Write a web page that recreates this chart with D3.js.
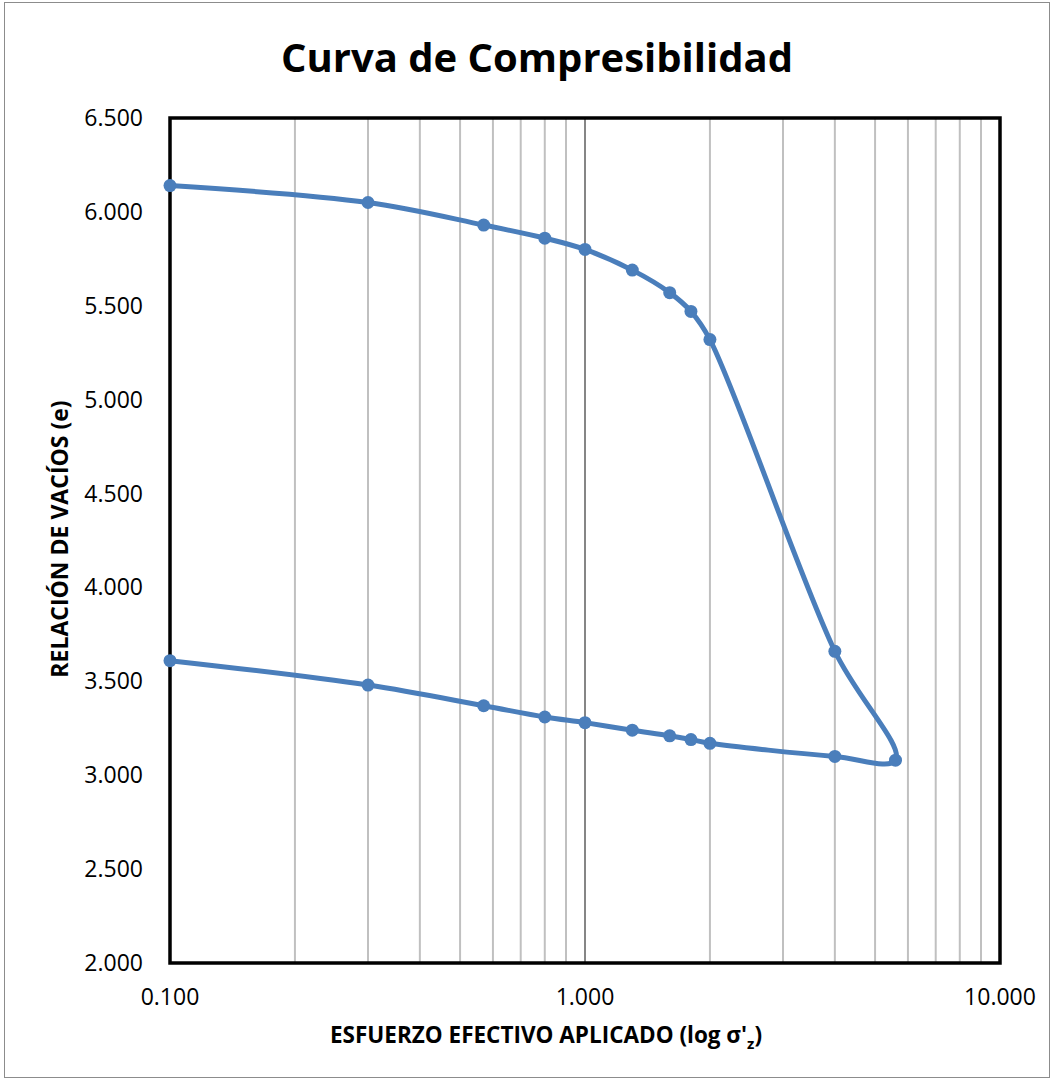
<!DOCTYPE html>
<html>
<head>
<meta charset="utf-8">
<script src="https://cdn.jsdelivr.net/npm/d3@7"></script>
<style>
  body { margin: 0; background: #fff; }
  text { font-family: "Open Sans", Lato, sans-serif; }
</style>
</head>
<body>
<div id="chart"></div>
<script>
// effective stress (loading then unloading) and void ratio
var stress = [0.1, 0.3, 0.57, 0.8, 1.0, 1.3, 1.6, 1.8, 2.0, 4.0, 5.6,
              4.0, 2.0, 1.8, 1.6, 1.3, 1.0, 0.8, 0.57, 0.3, 0.1];
var voidRatio = [6.14, 6.05, 5.93, 5.86, 5.80, 5.69, 5.57, 5.47, 5.32, 3.66, 3.08,
                 3.10, 3.17, 3.19, 3.21, 3.24, 3.28, 3.31, 3.37, 3.48, 3.61];
var yTicks = [2.0, 2.5, 3.0, 3.5, 4.0, 4.5, 5.0, 5.5, 6.0, 6.5];
var xTicks = [0.1, 1, 10];
var xGrid = [0.2, 0.3, 0.4, 0.5, 0.6, 0.7, 0.8, 0.9, 1, 2, 3, 4, 5, 6, 7, 8, 9];

let width = 1054;
let height = 1082;

var svg = d3.select("#chart").append("svg")
    .attr("width", width)
    .attr("height", height);

// outer border
svg.append("rect")
    .attr("x", 4.5).attr("y", 2.5)
    .attr("width", 1045).attr("height", 1075)
    .attr("fill", "white")
    .attr("stroke", "#8c8c8c")
    .attr("stroke-width", 1);

var x = d3.scaleLog().domain([0.1, 10]).range([170, 1000]);
var y = d3.scaleLinear().domain([2, 6.5]).range([963, 118]);

// vertical grid
svg.selectAll(".grid")
    .data(xGrid)
    .join("line")
    .attr("class", "grid")
    .attr("x1", d => x(d)).attr("x2", d => x(d))
    .attr("y1", 118).attr("y2", 963)
    .attr("stroke", d => d === 1 ? "#868686" : "#c0c0c0")
    .attr("stroke-width", 2);

// frame
svg.append("rect")
    .attr("x", 170).attr("y", 118)
    .attr("width", 830).attr("height", 845)
    .attr("fill", "none")
    .attr("stroke", "black")
    .attr("stroke-width", 3.5);

// y tick labels
svg.selectAll(".ytick")
    .data(yTicks)
    .join("text")
    .attr("class", "ytick")
    .attr("x", 143)
    .attr("y", d => y(d) + 8)
    .attr("text-anchor", "end")
    .style("font-size", "23px")
    .text(d => d3.format(".3f")(d));

// x tick labels
svg.selectAll(".xtick")
    .data(xTicks)
    .join("text")
    .attr("class", "xtick")
    .attr("x", d => x(d))
    .attr("y", 1005)
    .attr("text-anchor", "middle")
    .style("font-size", "23px")
    .text(d => d3.format(".3f")(d));

// title
svg.append("text")
    .attr("x", 537).attr("y", 72)
    .attr("text-anchor", "middle")
    .style("font-size", "40px")
    .style("font-weight", "bold")
    .text("Curva de Compresibilidad");

// axis titles
var xt = svg.append("text")
    .attr("x", 546).attr("y", 1043)
    .attr("text-anchor", "middle")
    .style("font-size", "22.5px")
    .style("font-weight", "bold");
xt.append("tspan").text("ESFUERZO EFECTIVO APLICADO (log σ'");
xt.append("tspan").attr("dy", 6).style("font-size", "15px").text("z");
xt.append("tspan").attr("dy", -6).text(")");

svg.append("text")
    .attr("transform", "translate(68,539) rotate(-90)")
    .attr("text-anchor", "middle")
    .style("font-size", "23px")
    .style("font-weight", "bold")
    .text("RELACIÓN DE VACÍOS (e)");

var points = stress.map((s, i) => ({ s: s, e: voidRatio[i] }));

let line = d3.line()
    .x(d => x(d.s))
    .y(d => y(d.e))
    .curve(d3.curveCatmullRom.alpha(0.5));

svg.append("path")
    .datum(points)
    .attr("d", line)
    .attr("fill", "none")
    .attr("stroke", "#4a7ebb")
    .attr("stroke-width", 5)
    .attr("stroke-linejoin", "round");

svg.selectAll(".pt")
    .data(points)
    .join("circle")
    .attr("class", "pt")
    .attr("cx", d => x(d.s))
    .attr("cy", d => y(d.e))
    .attr("r", 6.5)
    .attr("fill", "#4a7ebb");
</script>
</body>
</html>
